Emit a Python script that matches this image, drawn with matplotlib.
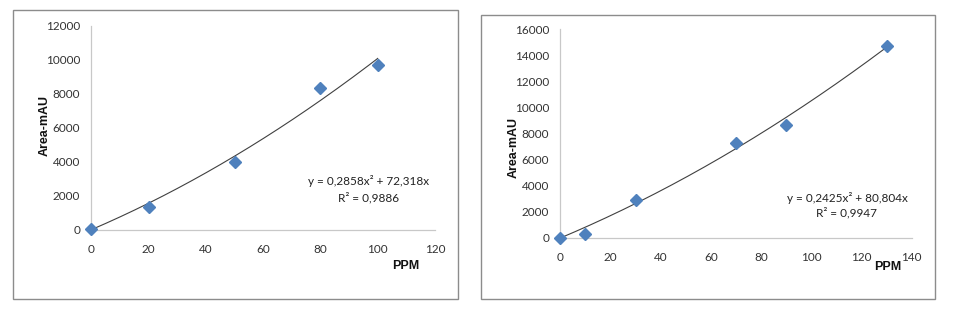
import numpy as np
import matplotlib
matplotlib.use("Agg")
import matplotlib.pyplot as plt
from matplotlib.patches import Rectangle

# Left chart data
ppm_left = [0, 20, 50, 80, 100]
area_left = [30, 1360, 3970, 8350, 9700]
fit_left = [0.2858, 72.318, 0.0]
eq_left = "y = 0,2858x² + 72,318x"
r2_left = "R² = 0,9886"
xticks_left = [0, 20, 40, 60, 80, 100, 120]
yticks_left = [0, 2000, 4000, 6000, 8000, 10000, 12000]

# Right chart data
ppm_right = [0, 10, 30, 70, 90, 130]
area_right = [20, 290, 2880, 7300, 8650, 14720]
fit_right = [0.2425, 80.804, 0.0]
eq_right = "y = 0,2425x² + 80,804x"
r2_right = "R² = 0,9947"
xticks_right = [0, 20, 40, 60, 80, 100, 120, 140]
yticks_right = [0, 2000, 4000, 6000, 8000, 10000, 12000, 14000, 16000]

plt.rcParams['font.family'] = ['Lato', 'DejaVu Sans']

W, H = 956, 313
fig = plt.figure(figsize=(W / 100, H / 100), dpi=100)
fig.patch.set_facecolor('white')

def px_rect(x0, y0, x1, y1):
    return [x0 / W, 1 - y1 / H, (x1 - x0) / W, (y1 - y0) / H]

# outer chart borders
for (x0, y0, x1, y1) in [(12.5, 9.5, 458, 299), (481, 14.5, 935, 299)]:
    fig.patches.append(Rectangle((x0 / W, 1 - y1 / H), (x1 - x0) / W, (y1 - y0) / H,
                                 transform=fig.transFigure, fill=False,
                                 edgecolor='#8c8c8c', linewidth=1.0))

marker_color = '#4F81BD'
tick_color = '#333333'
bold_family = ['Liberation Sans', 'DejaVu Sans']

def make_panel(rect, xs, ys, fit, xmax_fit, xticks, yticks, eq, r2, eqpos, eqgap,
               ylabel_pos, xlabel_pos):
    ax = fig.add_axes(rect)
    ax.set_xlim(xticks[0], xticks[-1])
    ax.set_ylim(yticks[0], yticks[-1])
    ax.set_xticks(xticks)
    ax.set_yticks(yticks)
    for s in ['top', 'right']:
        ax.spines[s].set_visible(False)
    for s in ['left', 'bottom']:
        ax.spines[s].set_color('#c8c8c8')
        ax.spines[s].set_linewidth(0.9)
    ax.tick_params(axis='both', length=0, labelsize=8.5, colors=tick_color)
    ax.tick_params(axis='x', pad=10)
    ax.tick_params(axis='y', pad=8)
    xf = np.linspace(0, xmax_fit, 200)
    ax.plot(xf, np.polyval(fit, xf), color='#404040', linewidth=0.8, zorder=2)
    ax.plot(xs, ys, linestyle='none', marker='D', markersize=6,
            color=marker_color, markeredgecolor=marker_color, zorder=3, clip_on=False)
    fig.text(eqpos[0] / W, 1 - eqpos[1] / H, eq, ha='center', va='center',
             fontsize=8.5, color='#222222')
    fig.text(eqpos[0] / W, 1 - (eqpos[1] + eqgap) / H, r2, ha='center', va='center',
             fontsize=8.5, color='#222222')
    fig.text(ylabel_pos[0] / W, 1 - ylabel_pos[1] / H, "Area-mAU", rotation=90,
             ha='center', va='center', fontsize=9, fontweight='bold',
             family=bold_family, color='#111111')
    fig.text(xlabel_pos[0] / W, 1 - xlabel_pos[1] / H, "PPM", ha='center', va='center',
             fontsize=9, fontweight='bold', family=bold_family, color='#111111')
    return ax

rect_left = px_rect(91.3, 26, 435, 229.7)
rect_right = px_rect(560.3, 29, 911.7, 238)

make_panel(rect_left, ppm_left, area_left, fit_left, 100, xticks_left, yticks_left,
           eq_left, r2_left, (369, 181), 17, (45, 125), (406, 266))
make_panel(rect_right, ppm_right, area_right, fit_right, 130, xticks_right, yticks_right,
           eq_right, r2_right, (847, 198), 15, (514, 147), (888, 267))

fig.savefig('out.png', dpi=100)
